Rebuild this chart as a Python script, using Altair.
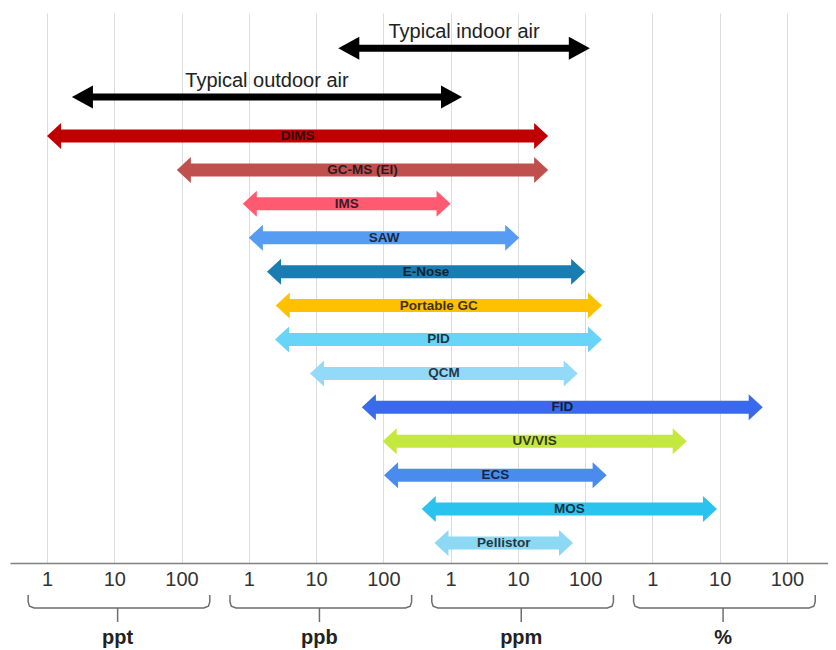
import json
import altair as alt
import pandas as pd

# ---------------- data ----------------
instruments = ["DIMS", "GC-MS (EI)", "IMS", "SAW", "E-Nose", "Portable GC", "PID",
               "QCM", "FID", "UV/VIS", "ECS", "MOS", "Pellistor"]
# positions on the decade-index axis (0 = 1 ppt, 3 = 1 ppb, 6 = 1 ppm, 9 = 1 %)
low = [0.0, 1.93, 2.91, 3.00, 3.27, 3.40, 3.39, 3.91, 4.68, 4.99, 5.01, 5.57, 5.76]
high = [7.45, 7.45, 6.00, 7.02, 8.00, 8.25, 8.25, 7.89, 10.64, 9.51, 8.32, 9.96, 7.82]
colors = ["#C00000", "#C0504D", "#FF5A70", "#579CF3", "#1A7DB1", "#FFC000", "#66D5F7",
          "#93DAF8", "#3B69EC", "#C4E83D", "#4A8BEE", "#2AC3EF", "#8DD8F2"]

env_names = ["Typical indoor air", "Typical outdoor air"]
env_low = [4.33, 0.37]
env_high = [8.07, 6.17]

tick_labels = ["1", "10", "100", "1", "10", "100", "1", "10", "100", "1", "10", "100"]
units = ["ppt", "ppb", "ppm", "%"]

# ---------------- layout helpers ----------------
FONT = "Liberation Sans"
ENV_LANES = [-2.59, -1.15]
STEP = 33.92  # px per lane

df = pd.DataFrame({"name": instruments, "low": low, "high": high,
                   "lane": list(range(len(instruments)))})
env = pd.DataFrame({"name": env_names, "low": env_low, "high": env_high, "lane": ENV_LANES})

x_scale = alt.Scale(domain=[-0.55, 11.61], nice=False, zero=False)
y_scale = alt.Scale(domain=[-3.626, 12.59], reverse=True, nice=False, zero=False)
col_scale = alt.Scale(domain=instruments, range=colors)

label_expr = json.dumps(tick_labels) + "[datum.value]"
x_axis = alt.Axis(values=list(range(len(tick_labels))), labelExpr=label_expr, grid=True,
                  gridColor="#dcdcdc", gridWidth=1, ticks=False, domainColor="#808080",
                  domainWidth=1.5, labelFontSize=20, labelColor="#333333", labelPadding=6,
                  labelFont=FONT, labelFlush=False, labelOverlap=False, title=None)

RIGHT_C = "M-1.08,-1L0,0L-1.08,1Z"
LEFT_C = "M1.08,-1L0,0L1.08,1Z"
RIGHT_K = "M-1.83,-1L0,0L-1.83,1Z"
LEFT_K = "M1.83,-1L0,0L1.83,1Z"

base = alt.Chart(df)
shaft = base.mark_rule(strokeWidth=13, xOffset=13, x2Offset=-13, strokeCap="butt").encode(
    x=alt.X("low:Q", scale=x_scale, axis=x_axis),
    x2="high:Q",
    y=alt.Y("lane:Q", scale=y_scale, axis=None),
    color=alt.Color("name:N", scale=col_scale, legend=None),
)
head_r = base.mark_point(shape=RIGHT_C, size=676, filled=True, opacity=1, strokeWidth=0).encode(
    x="high:Q", y="lane:Q", color=alt.Color("name:N", scale=col_scale, legend=None))
head_l = base.mark_point(shape=LEFT_C, size=676, filled=True, opacity=1, strokeWidth=0).encode(
    x="low:Q", y="lane:Q", color=alt.Color("name:N", scale=col_scale, legend=None))
labels = base.transform_calculate(mid="(datum.low + datum.high) / 2").mark_text(
    font=FONT, fontWeight="bold", fontSize=13.5, color="#0c0c14", opacity=0.8,
    baseline="middle").encode(x="mid:Q", y="lane:Q", text="name:N")

ebase = alt.Chart(env)
eshaft = ebase.mark_rule(strokeWidth=7, xOffset=19, x2Offset=-19, strokeCap="butt",
                         color="black").encode(x="low:Q", x2="high:Q", y="lane:Q")
ehead_r = ebase.mark_point(shape=RIGHT_K, size=529, filled=True, opacity=1, strokeWidth=0,
                           color="black").encode(x="high:Q", y="lane:Q")
ehead_l = ebase.mark_point(shape=LEFT_K, size=529, filled=True, opacity=1, strokeWidth=0,
                           color="black").encode(x="low:Q", y="lane:Q")
elabels = ebase.transform_calculate(mid="(datum.low + datum.high) / 2").mark_text(
    font=FONT, fontSize=20, color="#222222", dy=-16, baseline="middle").encode(
    x="mid:Q", y="lane:Q", text="name:N")

# ---------------- unit braces below the axis ----------------
def lane_of(px_below_axis):
    return 12.59 + px_below_axis / STEP

top_l, line_l, notch_l, text_l = lane_of(32), lane_of(45), lane_of(59), lane_of(75)
rx = 0.09
ry = 6 / STEP
rows = []
for g, u in enumerate(units):
    L, R = 3 * g - 0.28, 3 * g + 2.42
    pts = [(L, top_l), (L, line_l - ry), (L + 0.02, line_l - ry * 0.3), (L + rx, line_l),
           (R - rx, line_l), (R - 0.02, line_l - ry * 0.3), (R, line_l - ry), (R, top_l)]
    for k, (px, py) in enumerate(pts):
        rows.append({"unit": u, "order": k, "bx": px, "by": py})
braces = pd.DataFrame(rows)
centers = pd.DataFrame({"unit": units, "cx": [3 * g + 1.05 for g in range(len(units))],
                        "ly": line_l, "ny": notch_l, "ty": text_l})

brace_line = alt.Chart(braces).mark_line(color="#6e6e6e", strokeWidth=1.5).encode(
    x="bx:Q", y="by:Q", detail="unit:N", order="order:Q")
notch = alt.Chart(centers).mark_rule(color="#6e6e6e", strokeWidth=1.5).encode(
    x="cx:Q", y="ly:Q", y2="ny:Q")
unit_text = alt.Chart(centers).mark_text(font=FONT, fontSize=20, fontWeight="bold",
                                         color="#222222", baseline="middle").encode(
    x="cx:Q", y="ty:Q", text="unit:N")

chart = alt.layer(shaft, head_r, head_l, labels, eshaft, ehead_r, ehead_l, elabels,
                  brace_line, notch, unit_text).properties(
    width=818, height=550,
    padding={"left": 2, "top": 5, "right": 0, "bottom": 5},
    background="white",
).configure_view(stroke=None)

chart.save("out.html", embed_options={"renderer": "svg", "actions": False})
